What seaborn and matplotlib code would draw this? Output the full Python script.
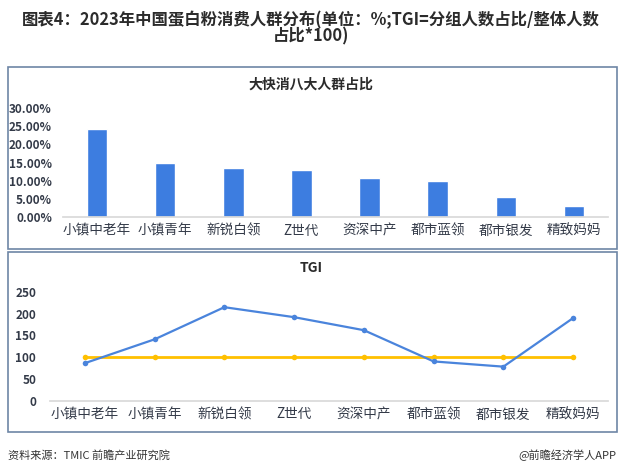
import matplotlib
matplotlib.use("Agg")
import matplotlib.pyplot as plt
import matplotlib.patches as mpatches
from matplotlib.ticker import FuncFormatter
import seaborn as sns
import pandas as pd

categories = ["小镇中老年", "小镇青年", "新锐白领", "Z世代", "资深中产", "都市蓝领", "都市银发", "精致妈妈"]
share_pct = [24.2, 14.8, 13.6, 13.0, 10.7, 9.9, 5.4, 3.1]
tgi_values = [86, 141, 215, 192, 162, 90, 78, 190]
baseline_values = [100, 100, 100, 100, 100, 100, 100, 100]
share_ticks = [0, 5, 10, 15, 20, 25, 30]
tgi_ticks = [0, 50, 100, 150, 200, 250]

title = "图表4：2023年中国蛋白粉消费人群分布(单位：%;TGI=分组人数占比/整体人数\n占比*100)"
top_title = "大快消八大人群占比"
bottom_title = "TGI"
source = "资料来源：TMIC 前瞻产业研究院"
credit = "@前瞻经济学人APP"

sns.set_theme(style="white")
plt.rcParams['font.family'] = ['Noto Sans CJK SC', 'DejaVu Sans']

W, H = 622, 475
fig = plt.figure(figsize=(W / 100, H / 100), dpi=100)
fig.patch.set_facecolor("white")

def fx(px):
    return px / W

def fy(py):
    return 1 - py / H

# panel frames
for (x0, y0, x1, y1) in [(8, 67, 617, 249), (8, 252, 617, 432)]:
    rect = mpatches.Rectangle((fx(x0), fy(y1)), fx(x1) - fx(x0), fy(y0) - fy(y1),
                              transform=fig.transFigure, facecolor="none",
                              edgecolor="#6E86A6", linewidth=1.2, zorder=-1)
    fig.patches.append(rect)

fig.text(0.5, fy(28), title, ha="center", va="center", fontsize=11.8, fontweight="bold",
         color="#2B2B2B", linespacing=0.9)

df = pd.DataFrame({"cat": categories, "share": [v / 100 for v in share_pct],
                   "tgi": tgi_values, "base": baseline_values})

tick_color = "#333A48"

# top bar chart
ax1 = fig.add_axes([fx(63), fy(217), fx(608) - fx(63), fy(108) - fy(217)])
ax1.set_facecolor("none")
sns.barplot(data=df, x="cat", y="share", color="#3D7DE0", width=0.3, saturation=1, ax=ax1)
ax1.set_xlim(-0.5, 7.5)
ax1.set_ylim(0, 0.30)
ax1.set_yticks([t / 100 for t in share_ticks])
ax1.yaxis.set_major_formatter(FuncFormatter(lambda v, p: f"{v*100:.2f}%"))
ax1.set_xlabel("")
ax1.set_ylabel("")
for s in ["top", "right", "left"]:
    ax1.spines[s].set_visible(False)
ax1.spines["bottom"].set_color("#D9D9D9")
ax1.tick_params(axis="both", length=0, colors=tick_color)
ax1.tick_params(axis="y", labelsize=8.5, pad=8)
ax1.tick_params(axis="x", labelsize=9.8, pad=5)
for lab in ax1.get_yticklabels():
    lab.set_fontweight("bold")
fig.text(0.5, fy(85), top_title, ha="center", va="center", fontsize=10, fontweight="bold", color="#2B2B2B")

# bottom line chart
ax2 = fig.add_axes([fx(50), fy(400.5), fx(608) - fx(50), fy(292) - fy(400.5)])
ax2.set_facecolor("none")
sns.lineplot(data=df, x="cat", y="base", color="#FFC000", linewidth=2, marker="o",
             markersize=4, markeredgewidth=0, sort=False, ax=ax2)
sns.lineplot(data=df, x="cat", y="tgi", color="#4A84DC", linewidth=1.6, marker="o",
             markersize=4, markeredgewidth=0, sort=False, ax=ax2)
ax2.set_xlim(-0.5, 7.5)
ax2.set_ylim(0, 250)
ax2.set_yticks(tgi_ticks)
ax2.set_xlabel("")
ax2.set_ylabel("")
for s in ["top", "right", "left"]:
    ax2.spines[s].set_visible(False)
ax2.spines["bottom"].set_color("#D9D9D9")
ax2.tick_params(axis="both", length=0, colors=tick_color)
ax2.tick_params(axis="y", labelsize=8.5, pad=10)
ax2.tick_params(axis="x", labelsize=9.8, pad=5)
for lab in ax2.get_yticklabels():
    lab.set_fontweight("bold")
fig.text(0.5, fy(268), bottom_title, ha="center", va="center", fontsize=10, fontweight="bold", color="#2B2B2B")

fig.text(fx(8), fy(455), source, ha="left", va="center", fontsize=8, color="#333333")
fig.text(fx(616), fy(455), credit, ha="right", va="center", fontsize=8, color="#333333")

fig.savefig("out.png", dpi=100, facecolor="white")
